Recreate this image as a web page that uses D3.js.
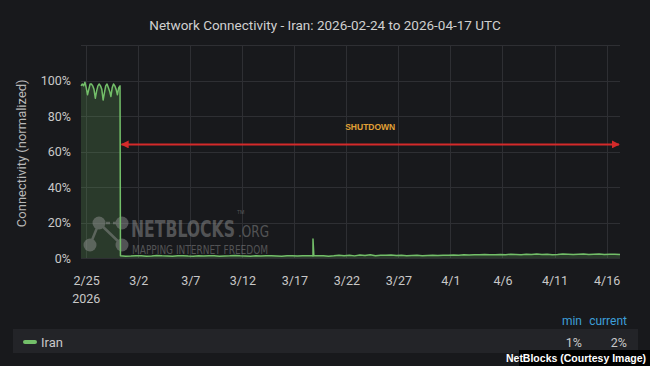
<!DOCTYPE html>
<html>
<head>
<meta charset="utf-8">
<title>Network Connectivity - Iran</title>
<script src="https://d3js.org/d3.v7.min.js"></script>
<style>
  html, body { margin: 0; padding: 0; background: #18191c; }
  svg { display: block; font-family: Roboto, 'Noto Sans', sans-serif; }
</style>
</head>
<body>
<script>
'use strict';
const width = 650;
const height = 366;

// pre-shutdown readings, every 3 hours from 2026-02-24 12:00 UTC
const preStart = '2026-02-24T12:00:00Z';
const preValues = [97, 98, 97, 99, 96, 92, 95, 98, 98, 97, 95, 90, 94, 97, 98, 97,
                   95, 89, 93, 97, 98, 96, 94, 91, 96, 98, 97, 95, 92, 96, 97];
// post-shutdown readings, every 12 hours from 2026-02-28 07:00 UTC
const postStart = '2026-02-28T07:00:00Z';
const postValues = [1.2, 1.0, 1.1, 1.3, 1.2, 1.0, 1.1, 1.4, 1.2, 1.1, 1.0, 1.2, 1.3, 1.1, 1.0, 1.2,
                    1.1, 1.3, 1.2, 1.0, 1.1, 1.2, 1.4, 1.2, 1.1, 1.0, 1.2, 1.1, 1.3, 1.2, 1.1, 1.0,
                    1.2, 1.3, 1.1, 1.2,
                    1.2, 1.1, 1.3, 1.2, 1.0, 1.2, 1.5, 1.3, 1.6, 1.2, 1.7, 1.4, 1.8, 1.3, 1.6, 1.5,
                    1.7, 1.4, 1.6, 1.3,
                    1.4, 1.5, 1.3, 1.4, 1.5, 1.4, 1.6, 1.5, 1.7, 1.6, 1.8, 1.7, 1.9, 1.8, 2.0, 1.9,
                    1.8, 2.0, 1.9, 2.1,
                    2.0, 1.9, 2.1, 2.0, 2.2, 2.0, 2.1, 1.9, 2.0, 2.2, 2.1, 2.0, 2.1, 2.2, 2.0, 2.1,
                    2.2, 2.0, 2.1, 2.1, 2.0];
// short spike on 3/18
const spikeTimes = ['2026-03-18T17:00:00Z', '2026-03-18T19:00:00Z', '2026-03-18T21:00:00Z'];
const spikeValues = [1.2, 10.7, 1.3];

const domainDates = ['2026-02-24T12:00:00Z', '2026-04-17T07:00:00Z'];
const tickDates = ['2026-02-25', '2026-03-02', '2026-03-07', '2026-03-12', '2026-03-17', '2026-03-22',
                   '2026-03-27', '2026-04-01', '2026-04-06', '2026-04-11', '2026-04-16'];
const yTicks = [0, 20, 40, 60, 80, 100];
const yGrid = [0, 20, 40, 60, 80, 100, 120];
// shutdown annotation: start, end, level
const shutdownSpan = ['2026-02-28T07:00:00Z', '2026-04-17T07:00:00Z'];
const shutdownLevel = 64;

const seriesName = 'Iran';
const green = '#73bf69';

// build series
const parse = s => new Date(s);
let data = [];
preValues.forEach((v, i) => data.push({t: d3.utcHour.offset(parse(preStart), i * 3), v: v}));
postValues.forEach((v, i) => data.push({t: d3.utcHour.offset(parse(postStart), i * 12), v: v}));
spikeTimes.forEach((s, i) => data.push({t: parse(s), v: spikeValues[i]}));
data.sort((a, b) => a.t - b.t);

const plot = {left: 81, right: 620, top: 45, bottom: 258};

const x = d3.scaleUtc()
  .domain(domainDates.map(parse))
  .range([plot.left, plot.right]);
const y = d3.scaleLinear()
  .domain([0, 120])
  .range([plot.bottom, plot.top]);

const svg = d3.select('body').append('svg')
  .attr('width', width)
  .attr('height', height);

svg.append('rect')
  .attr('width', width).attr('height', height)
  .attr('fill', '#18191c');

// title
svg.append('text')
  .attr('x', 325).attr('y', 30)
  .attr('text-anchor', 'middle')
  .attr('fill', '#d0d0d0')
  .attr('font-size', 13.5)
  .text('Network Connectivity - Iran: 2026-02-24 to 2026-04-17 UTC');

// grid
const grid = svg.append('g').attr('stroke', '#2e2f33').attr('stroke-width', 1);
grid.selectAll('line.h').data(yGrid).join('line')
  .attr('class', 'h')
  .attr('x1', plot.left).attr('x2', plot.right)
  .attr('y1', d => Math.round(y(d)) + 0.5).attr('y2', d => Math.round(y(d)) + 0.5);
grid.selectAll('line.v').data(tickDates.map(parse)).join('line')
  .attr('class', 'v')
  .attr('x1', d => Math.round(x(d)) + 0.5).attr('x2', d => Math.round(x(d)) + 0.5)
  .attr('y1', plot.top).attr('y2', plot.bottom);

// axes
const fmt = d3.utcFormat('%-m/%-d');
const xAxis = svg.append('g')
  .attr('transform', `translate(0,${plot.bottom + 6})`)
  .call(d3.axisBottom(x).tickValues(tickDates.map(parse)).tickFormat(fmt).tickSize(0).tickPadding(12));
xAxis.select('.domain').remove();
xAxis.selectAll('text').attr('fill', '#c8c8c8').attr('font-size', 12.5).attr('font-family', 'Roboto, sans-serif');
xAxis.append('text')
  .attr('x', x(parse(tickDates[0]))).attr('y', 39)
  .attr('text-anchor', 'middle')
  .attr('fill', '#c8c8c8').attr('font-size', 12.5)
  .attr('font-family', 'Roboto, sans-serif')
  .text('2026');

const yAxis = svg.append('g')
  .attr('transform', `translate(${plot.left - 10},0)`)
  .call(d3.axisLeft(y).tickValues(yTicks).tickFormat(d => d + '%').tickSize(0).tickPadding(0));
yAxis.select('.domain').remove();
yAxis.selectAll('text').attr('fill', '#c8c8c8').attr('font-size', 12.5).attr('font-family', 'Roboto, sans-serif');

svg.append('text')
  .attr('transform', `translate(26,${(y(100) + plot.bottom) / 2 - 16}) rotate(-90)`)
  .attr('text-anchor', 'middle')
  .attr('fill', '#b8b8b8')
  .attr('font-size', 13)
  .text('Connectivity (normalized)');

// area + line
const area = d3.area()
  .x(d => x(d.t)).y0(y(0)).y1(d => y(d.v));
const line = d3.line()
  .x(d => x(d.t)).y(d => y(d.v));

svg.append('path')
  .datum(data)
  .attr('d', area)
  .attr('fill', green)
  .attr('fill-opacity', 0.2);

// watermark
const wm = svg.append('g').attr('opacity', 0.45).attr('fill', '#9a9a9a').attr('stroke', '#9a9a9a');
const nodes = [[99, 223], [122, 223], [90, 245], [122, 245]];
const links = [[0, 1], [0, 2], [0, 3]];
wm.selectAll('line').data(links).join('line')
  .attr('x1', d => nodes[d[0]][0]).attr('y1', d => nodes[d[0]][1])
  .attr('x2', d => nodes[d[1]][0]).attr('y2', d => nodes[d[1]][1])
  .attr('stroke-width', 2.5)
  .attr('stroke-dasharray', (d, i) => i === 0 ? '4,3' : null);
wm.selectAll('circle').data(nodes).join('circle')
  .attr('cx', d => d[0]).attr('cy', d => d[1]).attr('r', 6.5).attr('stroke', 'none');
wm.append('text')
  .attr('x', 131).attr('y', 237)
  .attr('stroke', 'none')
  .attr('font-size', 23).attr('font-weight', 'bold')
  .attr('font-family', "'DejaVu Sans Condensed', 'Liberation Sans Narrow', sans-serif")
  .attr('textLength', 104).attr('lengthAdjust', 'spacingAndGlyphs')
  .text('NETBLOCKS');
wm.append('text')
  .attr('x', 237).attr('y', 214)
  .attr('stroke', 'none')
  .attr('font-size', 5)
  .text('TM');
wm.append('text')
  .attr('x', 238).attr('y', 237)
  .attr('stroke', 'none')
  .attr('font-size', 16)
  .attr('font-family', "'DejaVu Sans Condensed', 'Liberation Sans Narrow', sans-serif")
  .attr('textLength', 31).attr('lengthAdjust', 'spacingAndGlyphs')
  .text('.ORG');
wm.append('text')
  .attr('x', 132).attr('y', 254)
  .attr('stroke', 'none')
  .attr('font-size', 12.5)
  .attr('font-family', "'DejaVu Sans Condensed', 'Liberation Sans Narrow', sans-serif")
  .attr('textLength', 136).attr('lengthAdjust', 'spacingAndGlyphs')
  .text('MAPPING INTERNET FREEDOM');

svg.append('path')
  .datum(data)
  .attr('d', line)
  .attr('fill', 'none')
  .attr('stroke', green)
  .attr('stroke-width', 1.5)
  .attr('stroke-linejoin', 'round');

// shutdown annotation
const red = '#d42a2a';
svg.append('defs').append('marker')
  .attr('id', 'arrow')
  .attr('viewBox', '0 0 10 10')
  .attr('refX', 9).attr('refY', 5)
  .attr('markerWidth', 4).attr('markerHeight', 4)
  .attr('orient', 'auto-start-reverse')
  .append('path')
  .attr('d', 'M0,0 L10,5 L0,10 z')
  .attr('fill', red);
svg.append('line')
  .attr('x1', x(parse(shutdownSpan[0])) + 1).attr('x2', x(parse(shutdownSpan[1])) - 1)
  .attr('y1', y(shutdownLevel)).attr('y2', y(shutdownLevel))
  .attr('stroke', red).attr('stroke-width', 2)
  .attr('marker-start', 'url(#arrow)').attr('marker-end', 'url(#arrow)');
svg.append('text')
  .attr('x', (x(parse(shutdownSpan[0])) + x(parse(shutdownSpan[1]))) / 2)
  .attr('y', y(shutdownLevel) - 14)
  .attr('text-anchor', 'middle')
  .attr('fill', '#e2a136')
  .attr('font-size', 8.5).attr('font-weight', 'bold')
  .attr('font-family', "'Liberation Sans', Arial, sans-serif")
  .text('SHUTDOWN');

// legend
const minV = d3.min(data, d => d.v);
const curV = data[data.length - 1].v;
const pct = d => d3.format('.0f')(d) + '%';

svg.append('text').attr('x', 582).attr('y', 325).attr('text-anchor', 'end')
  .attr('fill', '#3d9fd9').attr('font-size', 12).text('min');
svg.append('text').attr('x', 627).attr('y', 325).attr('text-anchor', 'end')
  .attr('fill', '#3d9fd9').attr('font-size', 12).text('current');

svg.append('rect')
  .attr('x', 13).attr('y', 329).attr('width', 625).attr('height', 24)
  .attr('fill', '#232428');
svg.append('rect')
  .attr('x', 23).attr('y', 340).attr('width', 14).attr('height', 4).attr('rx', 2)
  .attr('fill', green);
svg.append('text').attr('x', 41).attr('y', 347)
  .attr('fill', '#c8c8c8').attr('font-size', 13).text(seriesName);
svg.append('text').attr('x', 582).attr('y', 347).attr('text-anchor', 'end')
  .attr('fill', '#c8c8c8').attr('font-size', 12.5).text(pct(minV));
svg.append('text').attr('x', 627).attr('y', 347).attr('text-anchor', 'end')
  .attr('fill', '#c8c8c8').attr('font-size', 12.5).text(pct(curV));

// credit
svg.append('rect')
  .attr('x', 519).attr('y', 350).attr('width', 131).attr('height', 16)
  .attr('fill', '#000');
svg.append('text')
  .attr('x', 646).attr('y', 362)
  .attr('text-anchor', 'end')
  .attr('fill', '#fff')
  .attr('font-size', 10.5).attr('font-weight', 'bold')
  .attr('font-family', "'Liberation Sans', Arial, sans-serif")
  .text('NetBlocks (Courtesy Image)');
</script>
</body>
</html>
